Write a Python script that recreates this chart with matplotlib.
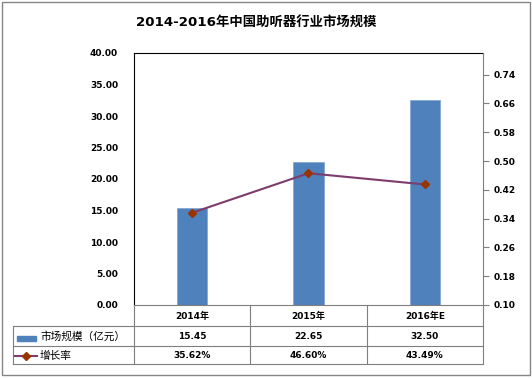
import matplotlib
matplotlib.use('Agg')
import matplotlib.pyplot as plt
from matplotlib.lines import Line2D
from matplotlib.patches import Rectangle
from matplotlib.transforms import blended_transform_factory

plt.rcParams['font.family'] = ['DejaVu Sans', 'Noto Sans CJK SC']

# data
years = ['2014年', '2015年', '2016年E']
market_size = [15.45, 22.65, 32.50]      # 亿元
growth_rate = [0.3562, 0.4660, 0.4349]
size_label = '市场规模（亿元）'
rate_label = '增长率'
title = '2014-2016年中国助听器行业市场规模'

W, H = 532, 379
bar_color = '#4F81BD'
line_color = '#7D3C6B'
marker_color = '#993300'
grid_gray = '#7F7F7F'

fig = plt.figure(figsize=(W / 100, H / 100), dpi=100)

def fx(px):
    return px / W

def fy(py):
    return 1 - py / H

# plot area in pixels: x 134..483, y 53..305
ax = fig.add_axes([fx(134), fy(305), fx(483) - fx(134), fy(53) - fy(305)])
x = list(range(len(years)))
ax.bar(x, market_size, width=0.26, color=bar_color, edgecolor='#7FA3D0', linewidth=0.5, zorder=2)
ax.set_xlim(-0.5, len(years) - 0.5)
ax.set_ylim(0, 40)
ax.set_yticks([0, 5, 10, 15, 20, 25, 30, 35, 40])
ax.set_yticklabels(['%.2f' % v for v in ax.get_yticks()], fontsize=6.5, fontweight='bold')
ax.tick_params(axis='y', length=0, pad=11.5)
ax.set_xticks([])
for s in ['top', 'left']:
    ax.spines[s].set_color('black')
    ax.spines[s].set_linewidth(0.8)
ax.spines['bottom'].set_color(grid_gray)
ax.spines['bottom'].set_linewidth(0.8)
ax.spines['right'].set_visible(False)

ax2 = ax.twinx()
ax2.plot(x, growth_rate, color=line_color, linewidth=1.5, marker='D', markersize=4.5,
         markerfacecolor=marker_color, markeredgecolor=marker_color, zorder=3)
ax2.set_ylim(0.10, 0.80)
rticks = [0.10, 0.18, 0.26, 0.34, 0.42, 0.50, 0.58, 0.66, 0.74]
ax2.set_yticks(rticks)
ax2.set_yticklabels(['%.2f' % v for v in rticks], fontsize=6.5, fontweight='bold')
ax2.tick_params(axis='y', length=4.3, pad=3, color=grid_gray, width=0.8)
for s in ['top', 'left', 'bottom']:
    ax2.spines[s].set_visible(False)
ax2.spines['right'].set_color(grid_gray)
ax2.spines['right'].set_linewidth(0.8)

fig.text(fx(256), fy(23), title, ha='center', va='center', fontsize=9.6, fontweight='bold')

# data table under the plot
tr = blended_transform_factory(ax.transData, fig.transFigure)
row_y = [305, 326, 346, 364]
for yy in row_y[1:]:
    fig.add_artist(Line2D([fx(13), fx(483)], [fy(yy), fy(yy)], color=grid_gray, linewidth=0.8))
fig.add_artist(Line2D([fx(13), fx(13)], [fy(326), fy(364)], color=grid_gray, linewidth=0.8))
for b in [i - 0.5 for i in range(len(years) + 1)]:
    fig.add_artist(Line2D([b, b], [fy(305), fy(364)], color=grid_gray, linewidth=0.8, transform=tr))

for i, yr in enumerate(years):
    fig.text(i, fy(316), yr, transform=tr, ha='center', va='center', fontsize=6.5, fontweight='bold')
    fig.text(i, fy(336.5), '%.2f' % market_size[i], transform=tr, ha='center', va='center',
             fontsize=6.5, fontweight='bold')
    fig.text(i, fy(355.5), '%.2f%%' % (growth_rate[i] * 100), transform=tr, ha='center', va='center',
             fontsize=6.5, fontweight='bold')

# legend keys inside the table
fig.add_artist(Rectangle((fx(17), fy(341)), fx(36) - fx(17), fy(336) - fy(341), color=bar_color))
fig.text(fx(40), fy(336.5), size_label, ha='left', va='center', fontsize=7.7,
         family=['Noto Sans CJK SC', 'DejaVu Sans'])
fig.add_artist(Line2D([fx(15), fx(37)], [fy(355.5), fy(355.5)], color=line_color, linewidth=1.5))
fig.add_artist(Line2D([fx(26)], [fy(355.5)], marker='D', markersize=4, color=marker_color, linestyle='none'))
fig.text(fx(40), fy(355.5), rate_label, ha='left', va='center', fontsize=7.7,
         family=['Noto Sans CJK SC', 'DejaVu Sans'])

# outer border
fig.add_artist(Rectangle((fx(2), fy(375)), fx(530) - fx(2), fy(2) - fy(375), fill=False,
                         edgecolor='#868686', linewidth=1))

fig.savefig('out.png', dpi=100)
